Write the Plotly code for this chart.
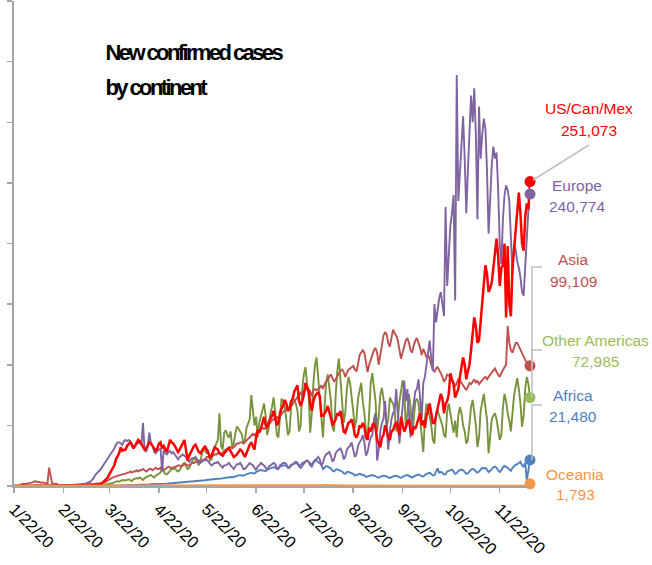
import pandas as pd
import plotly.graph_objects as go

# ---------------- data (daily new cases, in thousands) ----------------
start_date = "2020-01-22"
end_date = "2020-12-11"

tick_dates = ["2020-01-22", "2020-02-22", "2020-03-22", "2020-04-22", "2020-05-22",
              "2020-06-22", "2020-07-22", "2020-08-22", "2020-09-22", "2020-10-22",
              "2020-11-22"]
tick_labels = ["1/22/20", "2/22/20", "3/22/20", "4/22/20", "5/22/20", "6/22/20",
               "7/22/20", "8/22/20", "9/22/20", "10/22/20", "11/22/20"]

us_can_mex = [
    0, 0, 0, 0, 0, 0, 0, 0, 0, 0,
    0, 0, 0, 0, 0, 0, 0, 0, 0, 0, 0, 0, 0, 0, 0, 0, 0, 0, 0, 0, 0, 0, 0, 0, 0, 0, 0, 0, 0,
    0, 0, 0, 0, 0.1, 0.1, 0.1, 0.1, 0.2, 0.3, 0.4, 0.5, 0.6, 0.8, 0.9, 1.2, 1.9, 3.1, 4.8, 5.8,
    7.2, 10, 12, 14, 17, 22, 24, 27, 32, 29, 30,
    30, 33, 35, 36, 34, 31, 33, 36, 38, 37, 35, 32, 30, 31, 34, 36, 35, 33, 30, 29,
    31, 35, 36, 31, 33, 30, 28, 33, 38, 36,
    35, 33, 30, 28, 30, 33, 35, 38, 30, 21, 25, 28, 31, 33, 34, 31, 28, 27, 29, 31,
    33, 30, 27, 24, 25, 28, 32, 31, 30, 27, 26,
    25, 27, 29, 30, 31, 29, 26, 24, 25, 26, 28, 30, 29, 26, 24, 27, 31, 34, 36, 33,
    30, 40, 46, 44, 47, 52, 57, 50, 48, 53,
    55, 58, 62, 57, 50, 52, 60, 64, 66, 71, 68, 62, 64, 70, 72, 78, 80, 83, 70, 66,
    70, 75, 85, 81, 78, 68, 62, 70, 74, 76, 77,
    74, 58, 58, 60, 62, 66, 62, 56, 50, 52, 55, 60, 58, 62, 55, 45, 44, 48, 52, 53,
    55, 50, 42, 40, 43, 50, 48, 52, 49, 40, 38,
    48, 45, 50, 52, 48, 38, 35, 32, 40, 42, 50, 46, 40, 38, 45, 46, 50, 53, 48, 42,
    57, 52, 45, 48, 53, 55, 45, 42, 49, 47,
    52, 57, 60, 50, 54, 48, 58, 62, 68, 60, 52, 52, 58, 66, 70, 76, 72, 60, 68, 70,
    76, 93, 88, 84, 73, 76, 80, 90, 97, 106, 100,
    88, 95, 100, 112, 125, 139, 132, 118, 120, 135, 150, 165, 182, 175, 160, 163, 168, 180, 195, 204,
    190, 165, 180, 182, 200, 139, 198, 150, 140, 180,
    195, 210, 228, 242, 225, 200, 194, 222, 233, 228, 251.073,
]

europe = [
    0, 0, 0, 0, 0, 0, 0, 0, 0, 0,
    0, 0, 0, 0, 0, 0, 0, 0, 0, 0, 0, 0, 0, 0, 0, 0, 0, 0, 0, 0, 0, 0.1, 0.1, 0.1, 0.2, 0.2, 0.3, 0.3, 0.4,
    0.6, 0.6, 0.7, 0.9, 1.2, 1.5, 2.0, 2.5, 3.0, 3.5, 5.0, 6.5, 9.0, 11, 12, 13, 15, 17, 19, 21,
    23, 24, 26, 28, 31, 34, 36, 36, 35, 34, 37,
    38, 37, 38, 37, 35, 31, 33, 36, 35, 36, 34, 52, 30, 28, 33, 44, 35, 33, 28, 27,
    29, 30, 31, 12, 30, 27, 26, 28, 29, 27,
    28, 26, 24, 22, 24, 25, 26, 25, 24, 22, 20, 22, 23, 23, 24, 22, 20, 19, 20, 21,
    21, 22, 20, 18, 17, 18, 19, 19, 20, 18, 16,
    15, 17, 17, 18, 19, 17, 15, 14, 16, 18, 18, 19, 17, 14, 14, 16, 18, 19, 18, 17,
    15, 13, 16, 17, 19, 18, 17, 15, 13, 16,
    17, 18, 19, 18, 15, 14, 17, 18, 19, 19, 18, 15, 15, 17, 18, 19, 20, 19, 16, 15,
    17, 19, 20, 21, 20, 17, 16, 19, 21, 23, 24,
    22, 17, 19, 24, 26, 27, 28, 25, 20, 22, 27, 29, 30, 31, 28, 22, 24, 30, 32, 33,
    36, 31, 24, 26, 33, 36, 38, 42, 36, 25, 28,
    35, 40, 42, 55, 60, 21, 30, 45, 52, 55, 70, 50, 30, 45, 55, 60, 62, 80, 55, 35,
    52, 65, 87, 70, 80, 62, 40, 58, 68, 78,
    80, 88, 72, 55, 85, 90, 100, 110, 120, 105, 95, 150, 135, 145, 155, 160, 150, 140, 230, 165,
    190, 215, 225, 240, 153, 339, 235, 260, 280, 305, 270,
    225, 260, 297, 322, 300, 328, 290, 220, 313, 270, 290, 303, 295, 260, 208, 240, 265, 280, 270, 275,
    245, 200, 183, 220, 240, 248, 244, 235, 200, 175,
    200, 195, 185, 180, 172, 160, 157, 185, 210, 228, 240.774,
]

asia = [
    0.5, 0.1, 0.3, 0.7, 0.8, 1.7, 1.5, 1.7, 2.0, 2.1,
    2.6, 2.8, 3.2, 3.9, 3.7, 3.2, 3.4, 2.7, 3.0, 2.5, 2.0, 2.0, 15.1, 6.5, 2.0, 2.0, 1.9, 1.7, 0.4, 0.9,
    0.8, 0.6, 0.5, 0.7, 0.7, 0.8, 0.9, 1.0, 1.2,
    1.5, 1.7, 1.8, 1.6, 2.0, 2.2, 2.0, 1.9, 1.6, 1.5, 1.6, 1.7, 1.9, 2.0, 2.1, 2.0, 2.3, 2.6, 3.0, 3.5,
    4.5, 5.5, 6.5, 7.0, 7.5, 8.0, 8.5, 9.0, 9.0, 9.5, 10,
    10, 11, 11, 12, 11, 12, 12, 13, 12, 13, 13, 14, 13, 12, 13, 14, 14, 13, 14, 15,
    14, 14, 15, 14, 13, 14, 15, 16, 15, 15,
    15, 16, 16, 17, 17, 16, 17, 18, 18, 17, 17, 18, 19, 19, 20, 20, 20, 21, 21, 22,
    22, 24, 24, 23, 24, 25, 26, 26, 27, 27, 26,
    28, 29, 30, 31, 32, 32, 31, 32, 34, 35, 35, 36, 36, 35, 36, 38, 39, 40, 42, 43,
    42, 44, 45, 46, 47, 48, 47, 48, 50, 51,
    52, 54, 55, 56, 57, 56, 58, 60, 61, 62, 63, 62, 64, 66, 68, 70, 72, 74, 76, 77,
    76, 78, 80, 81, 80, 78, 74, 79, 80, 79, 80,
    81, 83, 80, 84, 86, 88, 90, 92, 89, 86, 88, 91, 93, 95, 96, 94, 90, 93, 96, 97,
    98, 99, 96, 95, 100, 108, 110, 112, 110, 100, 94,
    100, 105, 108, 112, 114, 110, 100, 108, 118, 124, 127, 125, 118, 115, 122, 129, 126, 124, 120, 112,
    105, 110, 116, 120, 122, 118, 112, 110, 116, 120,
    122, 118, 114, 108, 113, 110, 106, 108, 105, 100, 96, 94, 97, 98, 96, 93, 90, 86, 88, 92,
    91, 90, 88, 85, 82, 85, 88, 87, 85, 83, 80,
    79, 82, 85, 84, 86, 88, 85, 87, 84, 86, 88, 89, 90, 88, 90, 92, 94, 95, 97, 94,
    92, 90, 93, 96, 98, 100, 132, 118, 112, 110,
    114, 118, 118, 115, 112, 109, 106, 104, 102, 100, 99.109,
]

other_americas = [
    0, 0, 0, 0, 0, 0, 0, 0, 0, 0,
    0, 0, 0, 0, 0, 0, 0, 0, 0, 0, 0, 0, 0, 0, 0, 0, 0, 0, 0, 0, 0, 0, 0, 0, 0, 0, 0, 0, 0,
    0, 0, 0, 0, 0, 0, 0, 0, 0, 0, 0, 0.1, 0.1, 0.2, 0.3, 0.4, 0.5, 0.7, 0.9, 1.1,
    1.4, 1.7, 2.0, 2.5, 3.0, 3.5, 4.0, 3.5, 4.0, 5.0, 4.5,
    4.5, 5.0, 5.5, 4.5, 4.0, 5.5, 6.0, 6.5, 6.0, 7.0, 6.0, 5.0, 6.5, 7.5, 8.0, 8.5, 9.0, 8.0, 7.0, 8.5,
    9.5, 10, 11, 17, 12, 10, 9.5, 11, 13, 14,
    14, 15, 13, 12, 13, 16, 18, 19, 17, 14, 15, 18, 21, 22, 23, 20, 17, 21, 26, 31,
    29, 27, 30, 21, 22, 28, 32, 35, 38, 60, 33,
    30, 44, 46, 42, 40, 45, 32, 35, 44, 49, 47, 45, 43, 35, 38, 48, 52, 55, 75, 60,
    50, 57, 40, 52, 58, 62, 68, 58, 42, 48,
    60, 65, 73, 62, 42, 40, 60, 72, 70, 65, 55, 42, 45, 65, 73, 70, 68, 62, 45, 50,
    80, 92, 98, 85, 75, 44, 60, 85, 100, 106, 90,
    75, 55, 40, 65, 85, 92, 80, 70, 48, 45, 75, 95, 105, 90, 70, 52, 60, 80, 90, 85,
    75, 62, 48, 55, 72, 80, 85, 70, 60, 45, 38,
    60, 85, 93, 83, 70, 45, 57, 75, 81, 72, 60, 49, 55, 73, 70, 68, 62, 45, 52, 70,
    78, 87, 80, 49, 60, 76, 65, 42, 55, 70,
    72, 68, 55, 40, 28, 55, 68, 62, 58, 50, 38, 35, 60, 62, 58, 55, 50, 42, 40, 62,
    68, 60, 52, 44, 54, 40, 58, 65, 60, 50, 45,
    35, 38, 55, 65, 71, 62, 50, 32, 40, 62, 70, 76, 65, 55, 27, 45, 55, 58, 60, 55,
    45, 38, 42, 65, 76, 70, 60, 54, 45, 62,
    75, 82, 89, 80, 68, 49, 58, 80, 90, 84, 72.985,
]

africa = [
    0, 0, 0, 0, 0, 0, 0, 0, 0, 0,
    0, 0, 0, 0, 0, 0, 0, 0, 0, 0, 0, 0, 0, 0, 0, 0, 0, 0, 0, 0, 0, 0, 0, 0, 0, 0, 0, 0, 0,
    0, 0, 0, 0, 0, 0, 0, 0, 0, 0, 0, 0, 0, 0, 0.1, 0.1, 0.1, 0.1, 0.1, 0.2,
    0.2, 0.2, 0.3, 0.3, 0.4, 0.5, 0.5, 0.5, 0.6, 0.6, 0.7,
    0.7, 0.8, 0.8, 0.9, 0.9, 0.8, 0.9, 1.0, 1.0, 1.0, 1.1, 1.1, 1.0, 1.1, 1.2, 1.3, 1.4, 1.4, 1.5, 1.6,
    1.6, 1.7, 1.8, 1.9, 2.0, 1.9, 2.0, 2.1, 2.2, 2.3,
    2.3, 2.5, 2.6, 2.5, 2.7, 2.8, 3.0, 3.2, 3.3, 3.2, 3.1, 3.4, 3.6, 3.8, 4.0, 4.1, 3.9, 4.0, 4.3, 4.5,
    4.7, 5.0, 5.2, 4.9, 5.1, 5.4, 5.6, 5.8, 6.0, 5.9, 6.1,
    6.3, 6.5, 6.8, 7.2, 7.5, 7.4, 7.0, 7.6, 8.0, 8.4, 8.8, 9.0, 8.7, 8.5, 9.2, 9.8, 10.2, 10.6, 11.0, 10.5,
    10.3, 11.5, 12.5, 12.8, 13.2, 13.0, 12.6, 12.2, 13.5, 14.0,
    14.5, 15.0, 15.5, 15.2, 14.0, 14.8, 16.0, 16.5, 17.0, 17.2, 16.8, 15.5, 15.8, 17.5, 18.0, 18.5, 18.8, 18.2, 17.0, 17.5,
    19.0, 19.5, 20.5, 21.0, 20.0, 18.5, 18.0, 20.0, 21.5, 21.0, 20.0,
    19.0, 17.5, 14.0, 15.5, 16.5, 16.0, 15.0, 14.5, 12.5, 12.0, 13.5, 13.8, 13.0, 12.5, 12.0, 10.5, 10.0, 11.5, 11.8, 11.0,
    10.5, 10.0, 8.5, 8.8, 9.5, 10.0, 9.5, 9.0, 8.8, 7.5, 7.8,
    8.5, 8.8, 9.0, 8.5, 8.0, 7.0, 6.8, 7.5, 8.2, 8.5, 8.3, 8.0, 7.2, 6.5, 7.4, 8.0, 8.3, 8.5, 8.0, 7.0,
    6.6, 7.6, 8.4, 8.8, 9.0, 8.4, 7.2, 7.0, 8.0, 8.6,
    9.0, 9.4, 9.0, 8.0, 7.8, 9.2, 10.0, 10.5, 11.0, 10.0, 8.8, 9.0, 11.5, 14.5, 11.0, 11.5, 11.0, 9.5, 9.8, 12.0,
    12.5, 13.0, 13.5, 12.0, 10.0, 10.5, 12.5, 13.0, 13.5, 13.0, 11.5,
    10.0, 10.5, 12.5, 13.5, 14.0, 13.5, 12.0, 11.0, 12.0, 14.0, 15.0, 14.5, 15.0, 13.5, 11.5, 12.5, 14.5, 15.5, 16.0, 15.0,
    13.0, 11.5, 13.0, 15.5, 16.5, 16.0, 15.0, 13.5, 12.5, 15.0,
    16.5, 17.5, 18.0, 19.0, 20.0, 17.0, 16.0, 19.0, 4.5, 13.0, 21.48,
]

oceania = [
    0, 0, 0, 0, 0, 0, 0, 0, 0, 0,
    0, 0, 0, 0, 0, 0, 0, 0, 0, 0, 0, 0, 0, 0, 0, 0, 0, 0, 0, 0, 0, 0, 0, 0, 0, 0, 0, 0, 0,
    0, 0, 0, 0, 0, 0, 0, 0, 0, 0, 0.01, 0.02, 0.03, 0.05, 0.05, 0.08, 0.1, 0.15, 0.2, 0.25,
    0.3, 0.35, 0.4, 0.4, 0.45, 0.45, 0.45, 0.4, 0.35, 0.35, 0.3,
    0.3, 0.3, 0.25, 0.2, 0.2, 0.15, 0.1, 0.1, 0.1, 0.08, 0.07, 0.06, 0.05, 0.04, 0.04, 0.03, 0.03, 0.03, 0.02, 0.02,
    0.02, 0.02, 0.02, 0.02, 0.02, 0.02, 0.02, 0.02, 0.02, 0.02,
    0.02, 0.01, 0.02, 0.02, 0.01, 0.02, 0.02, 0.02, 0.01, 0.02, 0.02, 0.01, 0.02, 0.02, 0.02, 0.01, 0.02, 0.02, 0.01, 0.02,
    0.02, 0.02, 0.01, 0.02, 0.02, 0.02, 0.01, 0.02, 0.02, 0.01, 0.02,
    0.02, 0.02, 0.01, 0.02, 0.02, 0.02, 0.01, 0.02, 0.02, 0.02, 0.01, 0.02, 0.02, 0.02, 0.02, 0.03, 0.02, 0.03, 0.03, 0.03,
    0.04, 0.03, 0.04, 0.05, 0.05, 0.04, 0.06, 0.06, 0.07, 0.08,
    0.08, 0.1, 0.1, 0.12, 0.11, 0.13, 0.15, 0.17, 0.18, 0.2, 0.2, 0.22, 0.25, 0.27, 0.3, 0.32, 0.35, 0.33, 0.38, 0.4,
    0.42, 0.45, 0.48, 0.44, 0.46, 0.5, 0.52, 0.55, 0.6, 0.62, 0.58,
    0.5, 0.55, 0.6, 0.65, 0.58, 0.5, 0.52, 0.48, 0.45, 0.42, 0.4, 0.38, 0.35, 0.32, 0.3, 0.28, 0.27, 0.25, 0.24, 0.22,
    0.2, 0.19, 0.18, 0.17, 0.16, 0.15, 0.14, 0.13, 0.12, 0.11, 0.1,
    0.1, 0.09, 0.08, 0.08, 0.07, 0.06, 0.05, 0.05, 0.05, 0.04, 0.04, 0.04, 0.04, 0.03, 0.03, 0.03, 0.03, 0.03, 0.03, 0.03,
    0.03, 0.03, 0.03, 0.03, 0.03, 0.03, 0.03, 0.03, 0.03, 0.03,
    0.03, 0.03, 0.02, 0.03, 0.03, 0.02, 0.03, 0.03, 0.03, 0.02, 0.03, 0.03, 0.02, 0.03, 0.03, 0.03, 0.02, 0.03, 0.03, 0.02,
    0.03, 0.03, 0.03, 0.02, 0.03, 0.03, 0.03, 0.02, 0.03, 0.03, 0.03,
    0.03, 0.03, 0.04, 0.04, 0.05, 0.04, 0.05, 0.05, 0.06, 0.05, 0.06, 0.06, 0.07, 0.06, 0.05, 0.06, 0.07, 0.06, 0.05, 0.06,
    0.07, 0.06, 0.05, 0.06, 0.07, 0.06, 0.05, 0.06, 0.07, 0.06,
    0.06, 0.07, 0.06, 0.05, 0.06, 0.07, 0.06, 0.05, 0.06, 0.07, 1.793,
]

names = ["US/Can/Mex", "Europe", "Asia", "Other Americas", "Africa", "Oceania"]
last_labels = ["251,073", "240,774", "99,109", "72,985", "21,480", "1,793"]

# ---------------- figure ----------------
dates = pd.date_range(start_date, end_date, freq="D")
n = len(dates)
for nm, s in zip(names, [us_can_mex, europe, asia, other_americas, africa, oceania]):
    assert len(s) == n, (nm, len(s), n)

W, H = 652, 565
L, R, T, B = 14, 122, 1, 79
PW, PH = W - L - R, H - T - B


def px(x):
    return (x - L) / PW


def py(y):
    return (H - B - y) / PH


FONT = "Liberation Sans, Arial, sans-serif"

line_col = {"US/Can/Mex": "#FF0000", "Europe": "#8064A2", "Asia": "#C0504D",
            "Other Americas": "#77933C", "Africa": "#4F81BD", "Oceania": "#F79646"}
dot_col = {"US/Can/Mex": "#FF0000", "Europe": "#8064A2", "Asia": "#C0504D",
           "Other Americas": "#9BBB59", "Africa": "#4F81BD", "Oceania": "#F79646"}
text_col = {"US/Can/Mex": "#FF0000", "Europe": "#8064A2", "Asia": "#C0504D",
            "Other Americas": "#9BBB59", "Africa": "#4F81BD", "Oceania": "#F79646"}
widths = {"US/Can/Mex": 2.5, "Europe": 1.9, "Asia": 1.9,
          "Other Americas": 1.9, "Africa": 1.9, "Oceania": 2.5}
data = {"US/Can/Mex": us_can_mex, "Europe": europe, "Asia": asia,
        "Other Americas": other_americas, "Africa": africa, "Oceania": oceania}

fig = go.Figure()
draw_order = ["Africa", "Other Americas", "Asia", "Europe", "US/Can/Mex", "Oceania"]
for nm in draw_order:
    fig.add_trace(go.Scatter(
        x=dates, y=[v * 1000 for v in data[nm]], mode="lines", name=nm,
        line=dict(color=line_col[nm], width=widths[nm]), cliponaxis=False,
        hoverinfo="skip"))

dot_order = ["Oceania", "Africa", "Other Americas", "Asia", "US/Can/Mex", "Europe"]
for nm in dot_order:
    fig.add_trace(go.Scatter(
        x=[dates[-1]], y=[data[nm][-1] * 1000], mode="markers",
        marker=dict(color=dot_col[nm], size=11), cliponaxis=False, hoverinfo="skip"))

# leader lines (gray)
gray = "#BFBFBF"
shapes = []
shapes.append(dict(type="line", xref="paper", yref="paper",
                   x0=px(533), y0=py(180), x1=px(589), y1=py(145),
                   line=dict(color=gray, width=1.5)))
for ylab, ydot in [(267, 366), (350, 397), (405, 460)]:
    shapes.append(dict(type="path", xref="paper", yref="paper",
                       path=f"M {px(542)} {py(ylab)} L {px(532)} {py(ylab)} L {px(532)} {py(ydot)}",
                       line=dict(color=gray, width=1.5)))

annotations = []
label_pos = {
    "US/Can/Mex": (589, 108, 130),
    "Europe": (577, 185, 206),
    "Asia": (573, 259, 281),
    "Other Americas": (595, 340, 361),
    "Africa": (573, 395, 416),
    "Oceania": (575, 474, 495),
}
for nm, lab in zip(names, last_labels):
    xc, y1, y2 = label_pos[nm]
    for txt, yy in [(nm, y1), (lab, y2)]:
        annotations.append(dict(
            xref="paper", yref="paper", x=px(xc), y=py(yy), text=txt,
            showarrow=False, xanchor="center", yanchor="middle",
            font=dict(family=FONT, size=15.5, color=text_col[nm])))

for txt, yy in [("New confirmed cases", 53), ("by continent", 87)]:
    annotations.append(dict(
        xref="paper", yref="paper", x=px(105), y=py(yy), text=f"<b>{txt}</b>",
        showarrow=False, xanchor="left", yanchor="middle", align="left",
        font=dict(family=FONT, size=22, color="#000000")))

fig.update_layout(
    width=W, height=H,
    margin=dict(l=L, r=R, t=T, b=B, autoexpand=False),
    paper_bgcolor="white", plot_bgcolor="white",
    showlegend=False, hovermode=False,
    shapes=shapes, annotations=annotations,
    xaxis=dict(
        type="date", range=[start_date, end_date],
        tickmode="array", tickvals=tick_dates, ticktext=tick_labels,
        tickangle=45, ticks="outside", ticklen=5, tickwidth=1.5, tickcolor="#A6A6A6",
        showline=True, linecolor="#A6A6A6", linewidth=2,
        showgrid=False, zeroline=False,
        tickfont=dict(family=FONT, size=16.5, color="#000000"),
    ),
    yaxis=dict(
        range=[0, 400000], tick0=0, dtick=50000,
        ticks="outside", ticklen=5, tickwidth=1.5, tickcolor="#A6A6A6",
        showticklabels=False, showline=True, linecolor="#A6A6A6", linewidth=2,
        showgrid=False, zeroline=False,
    ),
)

# page without the browser's default 8px body margin, and a tighter,
# condensed-looking bold heading as in the original
post = """
document.documentElement.style.margin = '0';
document.documentElement.style.padding = '0';
document.body.style.margin = '0';
document.body.style.padding = '0';
document.body.style.overflow = 'hidden';
var gd = document.getElementById('{plot_id}');
gd.querySelectorAll('.annotation-text').forEach(function (t) {
  var s = t.textContent;
  if (s.indexOf('New confirmed') >= 0 || s.indexOf('by continent') >= 0) {
    t.style.letterSpacing = '-2.6px';
    t.setAttribute('text-anchor', 'start');
    var g = t.closest('.annotation');
    var r = g ? g.querySelector('rect.bg') : null;
    if (r) {
      t.setAttribute('x', r.getAttribute('x') || 0);
    }
  }
});
"""

fig.write_html("out.html", post_script=post,
               config={"displayModeBar": False, "staticPlot": True})
